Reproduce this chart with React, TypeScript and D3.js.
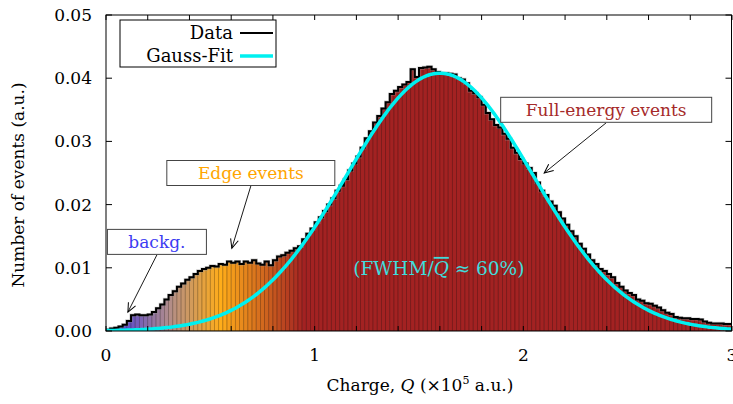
import React from 'react';
import * as d3 from 'd3';

// histogram of charge, 150 bins of width 0.02 (x10^5 a.u.)
const binWidth = 0.02;
const counts = [
  0.0002, 0.0004, 0.0005, 0.0007, 0.0010, 0.0016, 0.0025, 0.0026, 0.0025, 0.0025,
  0.0026, 0.0030, 0.0036, 0.0042, 0.0050, 0.0057, 0.0063, 0.0070, 0.0075, 0.0081,
  0.0085, 0.0090, 0.0095, 0.0098, 0.0100, 0.0103, 0.0102, 0.0106, 0.0105, 0.0110,
  0.0108, 0.0110, 0.0106, 0.0110, 0.0108, 0.0112, 0.0107, 0.0105, 0.0110, 0.0104,
  0.0112, 0.0118, 0.0120, 0.0124, 0.0127, 0.0131, 0.0134, 0.0145, 0.0154, 0.0162,
  0.0172, 0.0180, 0.0190, 0.0200, 0.0210, 0.0222, 0.0230, 0.0240, 0.0254, 0.0265,
  0.0276, 0.0290, 0.0305, 0.0316, 0.0330, 0.0340, 0.0352, 0.0362, 0.0375, 0.0380,
  0.0386, 0.0390, 0.0394, 0.0414, 0.0402, 0.0416, 0.0417, 0.0418, 0.0414, 0.0410,
  0.0408, 0.0408, 0.0407, 0.0406, 0.0400, 0.0398, 0.0392, 0.0380, 0.0376, 0.0370,
  0.0358, 0.0345, 0.0335, 0.0326, 0.0322, 0.0312, 0.0304, 0.0290, 0.0282, 0.0272,
  0.0265, 0.0258, 0.0250, 0.0235, 0.0222, 0.0215, 0.0205, 0.0198, 0.0188, 0.0178,
  0.0168, 0.0158, 0.0150, 0.0138, 0.0130, 0.0121, 0.0112, 0.0106, 0.0098, 0.0095,
  0.0090, 0.0085, 0.0076, 0.0070, 0.0064, 0.0060, 0.0057, 0.0050, 0.0048, 0.0044,
  0.0043, 0.0040, 0.0037, 0.0033, 0.0029, 0.0027, 0.0022, 0.0021, 0.0020, 0.0020,
  0.0019, 0.0019, 0.0018, 0.0015, 0.0013, 0.0012, 0.0012, 0.0012, 0.0011, 0.0011,
];

// Gauss fit parameters
const fitMean = 1.6;
const fitSigma = 0.445;
const fitAmp = 0.0408;

const xTickLabels = [0, 1, 2, 3];
const xMinorTicks = d3.range(0, 3.001, 0.2);
const yTickLabels = [0, 0.01, 0.02, 0.03, 0.04, 0.05];

const legendItems = [
  { label: 'Data', color: '#000', width: 2 },
  { label: 'Gauss-Fit', color: '#00f0f0', width: 3.5 },
];

const annotations = [
  { text: 'backg.', color: '#3c3cf2', cx: 0.244, cy: 0.0141, w: 99, tx: 0.105, ty: 0.003 },
  { text: 'Edge events', color: '#ffa500', cx: 0.694, cy: 0.025, w: 168, tx: 0.603, ty: 0.0131 },
  { text: 'Full-energy events', color: '#a52a2a', cx: 2.397, cy: 0.035, w: 211, tx: 2.1, ty: 0.025 },
];

const W = 733;
const H = 404;
const m = { left: 106, right: 732, top: 15, bottom: 331 };
const font = '"DejaVu Serif", serif';

export default function App() {
  const x = d3.scaleLinear().domain([0, 3]).range([m.left, m.right]);
  const y = d3.scaleLinear().domain([0, 0.05]).range([m.bottom, m.top]);

  const color = d3
    .scaleLinear<string>()
    .domain([0, 0.3, 0.55, 0.75, 0.95])
    .range(['#3a2ee6', '#b08c8c', '#ffad1a', '#d2691e', '#a32222'])
    .clamp(true);

  const bins = counts.map((v, i) => ({ x0: i * binWidth, x1: (i + 1) * binWidth, v }));

  let step = `M${x(0)},${y(0)}`;
  bins.forEach((b) => {
    step += `L${x(b.x0)},${y(b.v)}L${x(b.x1)},${y(b.v)}`;
  });

  const gaussPts = d3.range(0, 3.001, 0.01).map((q) => [q, fitAmp * Math.exp(-((q - fitMean) ** 2) / (2 * fitSigma * fitSigma))]);
  const gaussLine = d3
    .line<number[]>()
    .x((d) => x(d[0]))
    .y((d) => y(d[1]))(gaussPts);

  const plotR = 731.5;

  return (
    <div style={{ position: 'absolute', left: 0, top: 0 }}>
      <svg width={W} height={H} style={{ display: 'block', background: '#fff' }} fontFamily={font}>
        <defs>
          <clipPath id="plot">
            <rect x={m.left} y={m.top} width={plotR - m.left} height={m.bottom - m.top} />
          </clipPath>
          <marker id="arr" viewBox="-10 -6 12 12" refX="0" refY="0" markerWidth="12" markerHeight="12" orient="auto" markerUnits="userSpaceOnUse">
            <path d="M-9,-4 L0,0 L-9,4" fill="none" stroke="#000" strokeWidth="1" />
          </marker>
        </defs>

        <g clipPath="url(#plot)">
          {bins.map((b, i) => {
            const c = color((b.x0 + b.x1) / 2);
            return (
              <rect
                key={i}
                x={x(b.x0)}
                y={y(b.v)}
                width={x(b.x1) - x(b.x0)}
                height={y(0) - y(b.v)}
                fill={c}
                stroke={d3.color(c)!.darker(0.9).toString()}
                strokeWidth={0.8}
              />
            );
          })}
          <path d={step} fill="none" stroke="#999" strokeWidth={3.2} opacity={0.5} />
          <path d={step} fill="none" stroke="#000" strokeWidth={2} />
          <path d={gaussLine!} fill="none" stroke="#00f0f0" strokeWidth={3.5} />
        </g>

        {/* frame */}
        <rect x={m.left} y={m.top} width={plotR - m.left} height={m.bottom - m.top} fill="none" stroke="#000" strokeWidth={1} />

        {/* x ticks */}
        {xMinorTicks.map((t, i) => (
          <g key={i}>
            <line x1={x(t)} x2={x(t)} y1={m.bottom} y2={m.bottom - 5} stroke="#000" />
            <line x1={x(t)} x2={x(t)} y1={m.top} y2={m.top + 5} stroke="#000" />
          </g>
        ))}
        {xTickLabels.map((t) => (
          <text key={t} x={x(t)} y={361} textAnchor="middle" fontSize={17}>
            {t}
          </text>
        ))}

        {/* y ticks */}
        {yTickLabels.map((t) => (
          <g key={t}>
            <line x1={m.left} x2={m.left + 6} y1={y(t)} y2={y(t)} stroke="#000" />
            <line x1={plotR} x2={plotR - 6} y1={y(t)} y2={y(t)} stroke="#000" />
            <text x={92} y={y(t)} dy="0.35em" textAnchor="end" fontSize={17}>
              {t.toFixed(2)}
            </text>
          </g>
        ))}

        <text transform={`translate(24,${(m.top + m.bottom) / 2 + 12}) rotate(-90)`} textAnchor="middle" fontSize={17}>
          Number of events (a.u.)
        </text>
        <text x={420} y={391} textAnchor="middle" fontSize={17}>
          Charge, <tspan fontStyle="italic">Q</tspan> (×10
          <tspan dy={-7} fontSize={11}>5</tspan>
          <tspan dy={7}> a.u.)</tspan>
        </text>

        {/* legend */}
        <rect x={120} y={20} width={156} height={47} fill="#fff" stroke="#000" strokeWidth={1} />
        {legendItems.map((d, i) => (
          <g key={d.label} transform={`translate(0,${33 + i * 23})`}>
            <text x={233} y={0} dy="0.35em" textAnchor="end" fontSize={18}>
              {d.label}
            </text>
            <line x1={240} x2={273} y1={0} y2={0} stroke={d.color} strokeWidth={d.width} />
          </g>
        ))}

        {/* annotations */}
        {annotations.map((a) => {
          const bx = x(a.cx);
          const by = y(a.cy);
          return (
            <g key={a.text}>
              <line x1={bx} y1={by + 13} x2={x(a.tx)} y2={y(a.ty)} stroke="#000" strokeWidth={0.9} markerEnd="url(#arr)" />
              <rect x={bx - a.w / 2} y={by - 12.5} width={a.w} height={25} fill="#fff" stroke="#444" strokeWidth={1} />
              <text x={bx} y={by} dy="0.35em" textAnchor="middle" fontSize={17} fill={a.color}>
                {a.text}
              </text>
            </g>
          );
        })}

        <text x={x(1.595)} y={y(0.0099)} dy="0.35em" textAnchor="middle" fontSize={18.5} fill="#40dcdc">
          (FWHM/<tspan fontStyle="italic" textDecoration="overline">Q</tspan> ≈ 60%)
        </text>
      </svg>
    </div>
  );
}
